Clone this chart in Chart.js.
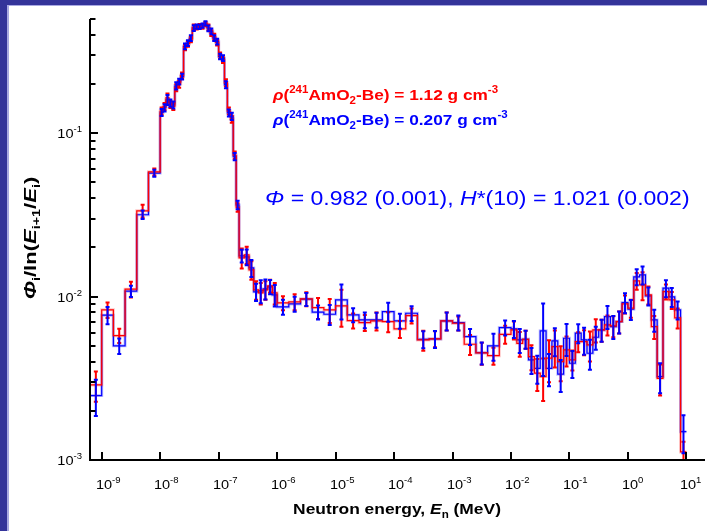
<!DOCTYPE html>
<html>
<head>
<meta charset="utf-8">
<script src="https://cdn.jsdelivr.net/npm/chart.js@4.4.1/dist/chart.umd.min.js"></script>
<style>
  html, body { margin: 0; padding: 0; background: #ffffff; overflow: hidden; width: 707px; height: 531px; }
  canvas { display: block; position: absolute; left: 0; top: 0; }
</style>
</head>
<body>
<canvas id="spectrumChart" width="707" height="531"></canvas>
<script>
// Energy bin edges (MeV)
const binEdges = [
  6.31e-10, 1e-9, 1.585e-9, 2.512e-9, 3.981e-9, 6.31e-9,
  1e-8, 1.122e-8, 1.259e-8, 1.413e-8, 1.585e-8, 1.778e-8, 1.995e-8, 2.239e-8, 2.512e-8, 2.818e-8,
  3.162e-8, 3.548e-8, 3.981e-8, 4.467e-8, 5.012e-8, 5.623e-8, 6.31e-8, 7.079e-8, 7.943e-8, 8.913e-8,
  1e-7, 1.122e-7, 1.259e-7, 1.413e-7, 1.585e-7, 1.778e-7, 1.995e-7, 2.239e-7,
  2.754e-7, 3.311e-7, 3.981e-7, 4.786e-7, 5.754e-7, 6.918e-7, 8.318e-7,
  1e-6, 1.585e-6, 2.512e-6, 3.981e-6, 6.31e-6,
  1e-5, 1.585e-5, 2.512e-5, 3.981e-5, 6.31e-5,
  1e-4, 1.585e-4, 2.512e-4, 3.981e-4, 6.31e-4,
  1e-3, 1.585e-3, 2.512e-3, 3.981e-3, 6.31e-3,
  1e-2, 1.259e-2, 1.585e-2, 1.995e-2, 2.512e-2, 3.162e-2, 3.981e-2, 5.012e-2, 6.31e-2, 7.943e-2,
  0.1, 0.1259, 0.1585, 0.1995, 0.2512, 0.3162, 0.3981, 0.5012, 0.631, 0.7943,
  1, 1.259, 1.585, 1.995, 2.512, 3.162, 3.981, 5.012, 6.31, 7.943, 10
];

// rho = 1.12 g cm-3 (red)
const fluenceDense = [
  2.88e-3, 8.3e-3, 5.77e-3, 1.11e-2, 3.35e-2, 5.8e-2,
  0.137, 0.146, 0.165, 0.150, 0.146, 0.190, 0.200, 0.226, 0.335, 0.352, 0.375, 0.445, 0.445, 0.452,
  0.450, 0.465, 0.445, 0.410, 0.390, 0.358, 0.300, 0.280, 0.204, 0.137, 0.122, 0.0735, 0.0352,
  0.01726, 0.0180, 0.01457, 0.01099, 0.01054, 0.01099, 0.01163, 0.01054,
  9.15e-3, 9.28e-3, 9.68e-3, 8.56e-3, 8.29e-3, 8.77e-3, 7.13e-3, 6.93e-3, 7.10e-3, 7.03e-3,
  6.34e-3, 7.65e-3, 5.43e-3, 5.51e-3, 7.10e-3, 6.87e-3, 5.11e-3, 4.52e-3, 4.35e-3, 5.88e-3,
  6.25e-3, 5.18e-3, 5.48e-3, 4.29e-3, 3.40e-3, 3.24e-3, 4.20e-3, 4.94e-3, 4.00e-3, 4.72e-3,
  4.10e-3, 5.30e-3, 5.30e-3, 5.06e-3, 6.25e-3, 6.25e-3, 6.71e-3, 6.62e-3, 7.03e-3, 9.02e-3,
  8.49e-3, 1.248e-2, 1.179e-2, 1.024e-2, 6.55e-3, 3.16e-3, 1.073e-2, 9.54e-3, 7.41e-3, 1.12e-3
];
const relErrDense = [
  0.21, 0.11, 0.10, 0.11, 0.09, 0.05,
  0.05, 0.05, 0.06, 0.05, 0.05, 0.05, 0.05, 0.04, 0.04, 0.04, 0.04, 0.04, 0.03, 0.03,
  0.03, 0.03, 0.04, 0.04, 0.04, 0.04, 0.04, 0.04, 0.05, 0.05, 0.05, 0.05, 0.06,
  0.14, 0.12, 0.13, 0.13, 0.15, 0.13, 0.09, 0.15,
  0.098, 0.112, 0.098, 0.147, 0.168, 0.255, 0.105, 0.112, 0.126, 0.140,
  0.119, 0.105, 0.140, 0.112, 0.126, 0.098, 0.140, 0.154, 0.119, 0.126,
  0.126, 0.174, 0.126, 0.174, 0.222, 0.29, 0.287, 0.255, 0.242, 0.208,
  0.140, 0.140, 0.174, 0.208, 0.161, 0.154, 0.140, 0.147, 0.154, 0.126,
  0.126, 0.119, 0.195, 0.126, 0.161, 0.215, 0.105, 0.119, 0.140, 0.154
];

// rho = 0.207 g cm-3 (blue)
const fluenceLight = [
  2.48e-3, 7.7e-3, 5.0e-3, 1.08e-2, 3.17e-2, 5.7e-2,
  0.134, 0.143, 0.160, 0.153, 0.149, 0.195, 0.207, 0.222, 0.340, 0.356, 0.382, 0.440, 0.450, 0.448,
  0.455, 0.471, 0.439, 0.420, 0.382, 0.364, 0.295, 0.288, 0.198, 0.133, 0.127, 0.0720, 0.0364,
  0.01775, 0.0175, 0.01498, 0.01069, 0.01084, 0.01115, 0.01147, 0.01024,
  8.65e-3, 9.02e-3, 9.64e-3, 8.03e-3, 7.80e-3, 9.54e-3, 7.72e-3, 7.20e-3, 7.20e-3, 8.09e-3,
  7.10e-3, 7.91e-3, 5.48e-3, 5.51e-3, 7.10e-3, 6.93e-3, 5.69e-3, 4.54e-3, 4.99e-3, 6.46e-3,
  6.34e-3, 5.43e-3, 5.48e-3, 4.10e-3, 3.64e-3, 6.17e-3, 3.64e-3, 5.36e-3, 3.35e-3, 5.56e-3,
  3.91e-3, 5.97e-3, 5.43e-3, 4.50e-3, 5.64e-3, 6.25e-3, 7.54e-3, 6.55e-3, 7.03e-3, 9.19e-3,
  8.37e-3, 1.32e-2, 1.358e-2, 1.01e-2, 7.20e-3, 3.24e-3, 1.126e-2, 9.96e-3, 8.29e-3, 1.49e-3
];
const relErrLight = [
  0.25, 0.12, 0.11, 0.08, 0.06, 0.05,
  0.05, 0.05, 0.07, 0.05, 0.05, 0.05, 0.04, 0.04, 0.04, 0.04, 0.04, 0.04, 0.03, 0.03,
  0.03, 0.03, 0.04, 0.04, 0.04, 0.04, 0.04, 0.04, 0.05, 0.05, 0.05, 0.05, 0.06,
  0.09, 0.11, 0.12, 0.12, 0.16, 0.14, 0.10, 0.15,
  0.105, 0.105, 0.091, 0.098, 0.140, 0.242, 0.098, 0.112, 0.105, 0.133,
  0.105, 0.105, 0.119, 0.119, 0.126, 0.105, 0.112, 0.154, 0.188, 0.105,
  0.119, 0.168, 0.126, 0.181, 0.195, 0.47, 0.222, 0.195, 0.222, 0.222,
  0.188, 0.133, 0.188, 0.208, 0.161, 0.154, 0.161, 0.161, 0.154, 0.140,
  0.140, 0.112, 0.126, 0.126, 0.154, 0.208, 0.119, 0.133, 0.126, 0.262
];

// Tick labels (powers of ten)
const xTickExponents = [-9, -8, -7, -6, -5, -4, -3, -2, -1, 0, 1];
const yTickExponents = [-3, -2, -1];

const RED = '#ff0000';
const BLUE = '#0000ff';
const FONT = '"Liberation Sans", Arial, sans-serif';

// histogram outline: one point per left edge, plus the closing right edge
function stepPoints(vals) {
  const pts = vals.map((v, i) => ({ x: binEdges[i], y: v }));
  pts.push({ x: binEdges[vals.length], y: vals[vals.length - 1] });
  return pts;
}

function stepLine(vals, color, width) {
  return {
    data: stepPoints(vals),
    showLine: true,
    stepped: 'before',   // horizontal run first, then the jump
    borderColor: color,
    borderWidth: width,
    pointRadius: 0,
    fill: false
  };
}

// draw a run of [text, font, dy] pieces, stretched sideways by sx
function richText(ctx, x, y, parts, align, sx) {
  sx = sx || 1;
  let w = 0;
  parts.forEach(p => { ctx.font = p[1]; w += ctx.measureText(p[0]).width; });
  let x0 = x;
  if (align === 'center') x0 = x - w * sx / 2;
  if (align === 'right') x0 = x - w * sx;
  ctx.save();
  ctx.translate(x0, y);
  ctx.scale(sx, 1);
  ctx.textAlign = 'left';
  ctx.textBaseline = 'alphabetic';
  let cx = 0;
  parts.forEach(p => {
    ctx.font = p[1];
    ctx.fillText(p[0], cx, p[2] || 0);
    cx += ctx.measureText(p[0]).width;
  });
  ctx.restore();
}

const framePlugin = {
  id: 'frame',
  beforeDraw(chart) {
    const { ctx, width, height } = chart;
    ctx.save();
    ctx.fillStyle = '#ffffff';
    ctx.fillRect(0, 0, width, height);
    ctx.fillStyle = '#34349a';
    ctx.fillRect(0, 0, 7, height);
    ctx.fillRect(0, 0, width, 5);
    ctx.fillStyle = '#a9a9e2';
    ctx.fillRect(7, 5, 2, height - 5);
    ctx.fillRect(7, 5, width - 7, 1);
    ctx.restore();
  }
};

const errorBarPlugin = {
  id: 'errorBars',
  afterDatasetsDraw(chart) {
    const { ctx, chartArea: a, scales: { x, y } } = chart;
    ctx.save();
    ctx.beginPath();
    ctx.rect(a.left, a.top - 4, a.right - a.left, a.bottom - a.top + 4);
    ctx.clip();
    ctx.lineWidth = 2;
    const draw = (vals, errs, color) => {
      ctx.strokeStyle = color;
      vals.forEach((v, i) => {
        const px = x.getPixelForValue(Math.sqrt(binEdges[i] * binEdges[i + 1]));
        const top = y.getPixelForValue(v * (1 + errs[i]));
        const bot = y.getPixelForValue(v * (1 - errs[i]));
        ctx.beginPath();
        ctx.moveTo(px, top); ctx.lineTo(px, bot);
        ctx.moveTo(px - 2, top); ctx.lineTo(px + 2, top);
        ctx.moveTo(px - 2, bot); ctx.lineTo(px + 2, bot);
        ctx.stroke();
      });
    };
    draw(fluenceDense, relErrDense, RED);
    draw(fluenceLight, relErrLight, BLUE);
    ctx.restore();
  }
};

const axesPlugin = {
  id: 'axes',
  afterDraw(chart) {
    const { ctx, chartArea: a, scales: { x, y } } = chart;
    ctx.save();
    ctx.strokeStyle = '#000';
    ctx.fillStyle = '#000';
    ctx.lineWidth = 2;
    ctx.beginPath();
    ctx.moveTo(a.left, a.top);
    ctx.lineTo(a.left, a.bottom);
    ctx.lineTo(a.right + 1, a.bottom);
    ctx.stroke();

    const T = '13px ' + FONT;
    const TS = '8.5px ' + FONT;
    const TSX = 1.12;

    // x ticks, inward
    xTickExponents.forEach(e => {
      const px = Math.round(x.getPixelForValue(Math.pow(10, e)));
      ctx.beginPath();
      ctx.moveTo(px, a.bottom);
      ctx.lineTo(px, a.bottom - 8);
      ctx.stroke();
      ctx.font = T;
      const bw = ctx.measureText('10').width * TSX;
      richText(ctx, px + 2 - bw / 2, a.bottom + 29,
        [['10', T], [String(e), TS, -6]], 'left', TSX);
    });

    // y ticks: decades plus 2..9 minors
    yTickExponents.forEach(e => {
      for (let m = 1; m <= 9; m++) {
        const v = m * Math.pow(10, e);
        if (v > y.max * 1.0001) break;
        const py = Math.round(y.getPixelForValue(v));
        ctx.beginPath();
        ctx.moveTo(a.left, py);
        ctx.lineTo(a.left + (m === 1 ? 8 : 5.5), py);
        ctx.stroke();
      }
      const py = y.getPixelForValue(Math.pow(10, e));
      richText(ctx, a.left - 8, py + 5,
        [['10', T], [String(e), TS, -6]], 'right', TSX);
    });

    // axis titles
    const B = 'bold 15px ' + FONT;
    const BI = 'bold italic 15px ' + FONT;
    const BS = 'bold 10px ' + FONT;
    richText(ctx, 397, 514, [
      ['Neutron energy, ', B], ['E', BI], ['n', BS, 4], [' (MeV)', B]
    ], 'center', 1.16);

    const YB = 'bold 17px ' + FONT;
    const YBI = 'bold italic 17px ' + FONT;
    const YBS = 'bold 11px ' + FONT;
    ctx.save();
    ctx.translate(36, 238);
    ctx.rotate(-Math.PI / 2);
    richText(ctx, 0, 0, [
      ['Φ', YBI], ['i', YBS, 4], ['/ln(', YB], ['E', YBI], ['i+1', YBS, 4],
      ['/', YB], ['E', YBI], ['i', YBS, 4], [')', YB]
    ], 'center', 1.3);
    ctx.restore();

    // annotations
    const AB = 'bold 15px ' + FONT;
    const ABI = 'bold italic 15px ' + FONT;
    const ABS = 'bold 10px ' + FONT;
    ctx.fillStyle = RED;
    richText(ctx, 273, 100, [
      ['ρ', ABI], ['(', AB], ['241', ABS, -7], ['AmO', AB], ['2', ABS, 4],
      ['-Be) = 1.12 g cm', AB], ['-3', ABS, -7]
    ], 'left', 1.15);
    ctx.fillStyle = BLUE;
    richText(ctx, 273, 125, [
      ['ρ', ABI], ['(', AB], ['241', ABS, -7], ['AmO', AB], ['2', ABS, 4],
      ['-Be) = 0.207 g cm', AB], ['-3', ABS, -7]
    ], 'left', 1.15);
    const R20 = '20px ' + FONT;
    const I20 = 'italic 20px ' + FONT;
    richText(ctx, 265, 205, [
      ['Φ', I20], [' = 0.982 (0.001), ', R20], ['H', I20], ['*(10) = 1.021 (0.002)', R20]
    ], 'left', 1.15);
    ctx.restore();
  }
};

new Chart(document.getElementById('spectrumChart'), {
  type: 'scatter',
  data: {
    datasets: [
      stepLine(fluenceDense, 'rgba(255, 0, 0, 0.22)', 3),
      stepLine(fluenceDense, RED, 1.2),
      stepLine(fluenceLight, 'rgba(0, 0, 255, 0.25)', 3),
      stepLine(fluenceLight, BLUE, 1.2)
    ]
  },
  options: {
    responsive: false,
    animation: false,
    layout: { padding: { left: 90, top: 19, right: 3, bottom: 71 } },
    plugins: {
      legend: { display: false },
      tooltip: { enabled: false }
    },
    scales: {
      x: { type: 'logarithmic', min: 6.31e-10, max: 20, display: false },
      y: { type: 'logarithmic', min: 1e-3, max: 0.5, display: false }
    }
  },
  plugins: [framePlugin, errorBarPlugin, axesPlugin]
});
</script>
</body>
</html>
